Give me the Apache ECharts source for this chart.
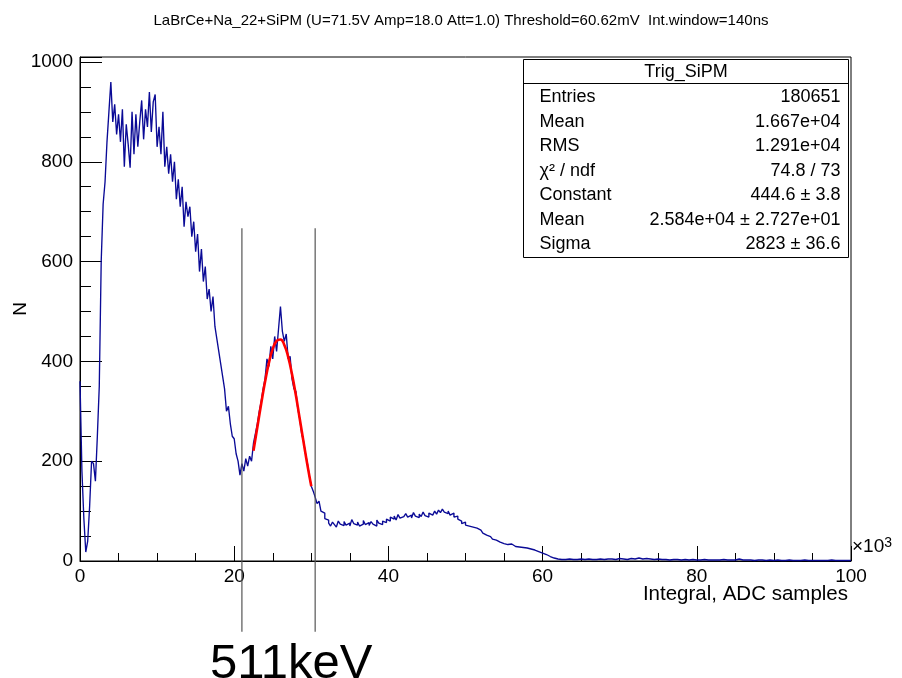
<!DOCTYPE html>
<html>
<head>
  <meta charset="utf-8">
  <title>Trig_SiPM</title>
  <script src="https://cdn.jsdelivr.net/npm/echarts@6/dist/echarts.min.js"></script>
  <style>
    * { margin: 0; padding: 0; }
    html, body { background: #fff; }
    #chart { width: 902px; height: 678px; }
  </style>
</head>
<body>
<div id="chart"></div>
<script>
var FONT = '"Liberation Sans", Arial, sans-serif';
var titleText = 'LaBrCe+Na_22+SiPM (U=71.5V Amp=18.0 Att=1.0) Threshold=60.62mV  Int.window=140ns';

// histogram: fine bins (250) up to 62.5k, coarser tail (500) to 100k
var fineWidth = 250;
var countsFine = [
  // 0 - 5k
  360, 180, 85, 18, 40, 110, 200, 195, 160, 250,
  350, 600, 715, 760, 840, 900, 960, 880, 915, 855,
  // 5k - 12k
  895, 840, 905, 790, 875, 835, 788, 900, 815, 895,
  830, 880, 923, 845, 905, 870, 940, 860, 920, 935,
  830, 870, 815, 900, 790, 830, 776, 815,
  // 12k - 21k
  760, 800, 725, 765, 710, 750, 670, 720, 690, 710,
  650, 680, 620, 655, 580, 625, 560, 590, 525, 545,
  500, 530, 470, 445, 420, 395, 370, 345, 300, 310,
  275, 250, 245, 215, 200, 172,
  // 21k - 32k
  195, 180, 205, 190, 210, 200, 236, 255, 275, 300,
  320, 345, 365, 405, 390, 430, 405, 450, 420, 465,
  510, 460, 440, 455, 405, 410, 365, 345, 340, 305,
  285, 255, 240, 215, 195, 170, 150, 140, 128, 115,
  120, 100, 96, 85,
  // 32k - 40k
  82, 76, 70, 78, 73, 68, 80, 74, 71, 79,
  72, 76, 70, 83, 75, 72, 78, 70, 74, 81,
  73, 77, 71, 79, 74, 70, 82, 76, 73, 80,
  77, 84,
  // 40k - 46k
  80, 88, 84, 90, 82, 93, 86, 89, 85, 95,
  88, 92, 86, 97, 90, 87, 94, 89, 98, 91,
  88, 96, 92, 95,
  // 46k - 52k
  100, 94, 102, 97, 104, 98, 95, 100, 92, 96, 88, 90,
  84, 80, 75, 78, 72, 70, 74, 68, 70, 66, 68, 62,
  // 52k - 58k
  60, 56, 52, 55, 49, 46, 44, 42, 40, 38, 37, 35,
  35, 33, 31, 34, 30, 29, 32, 28, 30, 27, 29, 26,
  // 58k - 62.5k
  26, 24, 23, 22, 21, 19, 18, 16, 14, 13, 11, 9, 8, 6, 5, 4, 4, 3
];
var tailWidth = 500;
var countsTail = [
  3, 4, 3, 3, 4, 3, 4, 3, 3, 4,
  3, 4, 4, 3, 5, 4, 3, 5, 4, 6,
  4, 5, 4, 3, 4, 3, 3, 2, 3, 3,
  2, 3, 2, 3, 2, 2, 3, 2, 2, 2,
  2, 3, 2, 2, 2, 4, 2, 2, 2, 1,
  2, 2, 1, 2, 1, 2, 1, 1, 2, 1,
  1, 1, 2, 1, 1, 1, 1, 1, 1, 2,
  1, 1, 1, 1, 1
];

// gaussian fit curve (red)
var fitX = [22500, 23000, 23500, 24000, 24500, 25000, 25500, 26000, 26500, 27000, 27500, 28000, 28500, 29000, 29500, 30000];
var fitY = [221, 268, 315, 359, 397, 425, 441, 444, 433, 409, 374, 332, 285, 238, 192, 150];

// the two cut lines around the 511 keV peak
var cutX = [21000, 30500];
var cutY = [667, -142];

var statTitle = 'Trig_SiPM';
var statNames = ['Entries', 'Mean', 'RMS', 'χ² / ndf', 'Constant', 'Mean', 'Sigma'];
var statValues = ['180651', '1.667e+04', '1.291e+04', '74.8 / 73', '444.6 ± 3.8', '2.584e+04 ± 2.727e+01', '2823 ± 36.6'];

var histData = [];
countsFine.forEach(function (c, i) { histData.push([i * fineWidth, c]); });
var tailStart = countsFine.length * fineWidth;
countsTail.forEach(function (c, i) { histData.push([tailStart + i * tailWidth, c]); });
histData.push([tailStart + countsTail.length * tailWidth, countsTail[countsTail.length - 1]]);
var fitData = fitX.map(function (x, i) { return [x, fitY[i]]; });

var series = [
  {
    type: 'line', step: 'end', data: histData, showSymbol: false, symbol: 'none',
    lineStyle: { color: '#0a0a96', width: 1.35 }, z: 3, silent: true
  },
  {
    type: 'line', smooth: true, data: fitData, showSymbol: false, symbol: 'none',
    lineStyle: { color: '#ff0000', width: 2.6 }, z: 4, silent: true
  }
];
cutX.forEach(function (x) {
  series.push({
    type: 'line', clip: false, data: [[x, cutY[0]], [x, cutY[1]]],
    showSymbol: false, symbol: 'none', lineStyle: { color: '#555', width: 1.2 }, z: 5, silent: true
  });
});

// stats box
var box = { left: 521, top: 59, w: 325, h: 198 };
var boxChildren = [
  { type: 'rect', shape: { x: 0, y: 0, width: box.w, height: box.h }, style: { fill: '#fff', stroke: '#000', lineWidth: 1 } },
  { type: 'line', shape: { x1: 0, y1: 24, x2: box.w, y2: 24 }, style: { stroke: '#000', lineWidth: 1 } },
  { type: 'text', style: { text: statTitle, x: box.w / 2, y: 13, align: 'center', verticalAlign: 'middle', font: '18px ' + FONT, fill: '#000' } }
];
statNames.forEach(function (n, i) {
  var y = 38 + 24.5 * i;
  boxChildren.push({ type: 'text', style: { text: n, x: 16, y: y, align: 'left', verticalAlign: 'middle', font: '18px ' + FONT, fill: '#000' } });
  boxChildren.push({ type: 'text', style: { text: statValues[i], x: box.w - 8, y: y, align: 'right', verticalAlign: 'middle', font: '18px ' + FONT, fill: '#000' } });
});

var chart = echarts.init(document.getElementById('chart'), null, { renderer: 'canvas' });
chart.setOption({
  animation: false,
  backgroundColor: '#fff',
  title: {
    text: titleText, left: 456, top: 8, textAlign: 'center',
    textStyle: { fontFamily: FONT, fontSize: 15, fontWeight: 'normal', color: '#000' }
  },
  grid: {
    left: 80, right: 51, top: 57, bottom: 117, outerBoundsMode: 'none', containLabel: false,
    show: true, borderColor: '#000', borderWidth: 1, backgroundColor: '#fff'
  },
  xAxis: {
    type: 'value', min: 0, max: 100000, interval: 20000,
    axisLine: { lineStyle: { color: '#000', width: 1 } },
    axisTick: { inside: true, length: 15, lineStyle: { color: '#000' } },
    minorTick: { show: true, splitNumber: 4, length: 8, lineStyle: { color: '#000' } },
    splitLine: { show: false },
    axisLabel: { margin: 6, color: '#000', fontFamily: FONT, fontSize: 19, formatter: function (v) { return String(v / 1000); } }
  },
  yAxis: [
    {
      type: 'value', min: 0, max: 1010, interval: 200, position: 'left',
      name: 'N', nameLocation: 'middle', nameGap: 50, nameMoveOverlap: false,
      nameTextStyle: { color: '#000', fontFamily: FONT, fontSize: 19 },
      axisLine: { show: true, lineStyle: { color: '#000', width: 1 } },
      axisTick: { inside: true, length: 22, lineStyle: { color: '#000' } },
      splitLine: { show: false },
      axisLabel: { margin: 7, color: '#000', fontFamily: FONT, fontSize: 19, formatter: function (v) { return v % 200 === 0 ? String(v) : ''; } }
    },
    {
      type: 'value', min: 0, max: 1010, interval: 50, position: 'left', offset: 0,
      axisLine: { show: false },
      axisTick: { show: true, inside: true, length: 11, lineStyle: { color: '#000' } },
      splitLine: { show: false },
      axisLabel: { show: false }
    }
  ],
  series: series,
  graphic: [
    { type: 'group', left: box.left, top: box.top, children: boxChildren },
    {
      type: 'text', left: 852, top: 536,
      style: { text: '×10{s|3}', font: '19px ' + FONT, fill: '#000', rich: { s: { fontSize: 14, fontFamily: FONT, verticalAlign: 'top', padding: [0, 0, 8, 0] } } }
    },
    { type: 'text', right: 54, top: 584, style: { text: 'Integral, ADC samples', font: '20.5px ' + FONT, fill: '#000' } },
    { type: 'text', left: 210, top: 640, style: { text: '511keV', font: '49px ' + FONT, fill: '#000' } }
  ]
});
</script>
</body>
</html>
